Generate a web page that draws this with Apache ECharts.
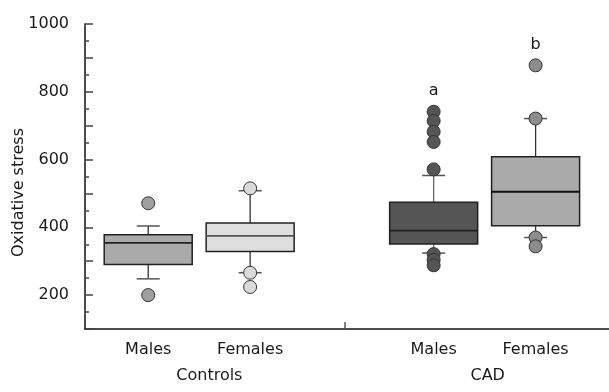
<!DOCTYPE html>
<html><head><meta charset="utf-8">
<script src="https://cdn.jsdelivr.net/npm/echarts@6/dist/echarts.min.js"></script>
<style>html,body{margin:0;padding:0;background:#fff}#c{width:609px;height:392px}</style>
</head><body><div id="c"></div>
<script>
const groups = ['Controls', 'CAD'];
const groupPositions = [1.6, 4.33];
const categories = ['Males', 'Females', 'Males', 'Females'];
const xPositions = [1, 2, 3.8, 4.8];
const separatorPositions = [2.93];
// [lower whisker, Q1, median, Q3, upper whisker]
const boxStats = [
  [248, 290, 354, 378, 404],
  [266, 329, 375, 413, 508],
  [324, 351, 390, 474, 553],
  [370, 405, 505, 608, 721]
];
const points = [
  [471, 200],
  [515, 266, 224],
  [741, 714, 682, 652, 571, 321, 304, 288],
  [878, 721, 370, 344]
];
const annotations = ['', '', 'a', 'b'];
const yTickLabels = [200, 400, 600, 800, 1000];

const boxFill = ['#aaaaaa', '#dedede', '#555555', '#aaaaaa'];
const pointFill = ['#a0a0a0', '#dadada', '#555555', '#8c8c8c'];
const medianColor = ['#222', '#555', '#222', '#111'];
const FONT = 'DejaVu Sans';

const boxData = boxStats.map((s, i) => [xPositions[i]].concat(s));
const pointData = [];
points.forEach((arr, i) => arr.forEach(v => pointData.push([xPositions[i], v, i])));
const annoData = points.map((arr, i) => [xPositions[i], Math.max.apply(null, arr)]);

const chart = echarts.init(document.getElementById('c'));
chart.setOption({
  animation: false,
  grid: {left: 85, right: 0, top: 24, bottom: 63, outerBoundsMode: 'none', containLabel: false},
  xAxis: [{
    type: 'value', min: 0.38, max: 5.52,
    splitLine: {show: false},
    axisLine: {show: true, lineStyle: {color: '#111', width: 1.5}},
    axisTick: {show: true, inside: true, length: 7, customValues: separatorPositions, lineStyle: {color: '#555', width: 1.5}},
    axisLabel: {
      customValues: xPositions, margin: 13, fontSize: 16, fontFamily: FONT, color: '#1a1a1a',
      formatter: v => { const k = xPositions.indexOf(v); return k >= 0 ? categories[k] : ''; }
    }
  }, {
    type: 'value', min: 0.38, max: 5.52, position: 'bottom', offset: 26,
    splitLine: {show: false}, axisLine: {show: false}, axisTick: {show: false},
    axisLabel: {
      customValues: groupPositions, margin: 13, fontSize: 16, fontFamily: FONT, color: '#1a1a1a',
      formatter: v => { const k = groupPositions.indexOf(v); return k >= 0 ? groups[k] : ''; }
    }
  }],
  yAxis: {
    type: 'value', min: 100, max: 1000, interval: 100,
    splitLine: {show: false},
    axisLine: {show: true, lineStyle: {color: '#111', width: 1.5}},
    axisTick: {show: true, inside: true, length: 8, lineStyle: {color: '#444', width: 1.5}},
    minorTick: {show: true, splitNumber: 2, length: 4, lineStyle: {color: '#444', width: 1.5}},
    axisLabel: {
      margin: 16, fontSize: 16, fontFamily: FONT, color: '#1a1a1a',
      formatter: v => yTickLabels.includes(v) ? String(v) : ''
    },
    name: 'Oxidative stress', nameLocation: 'middle', nameGap: 58, nameMoveOverlap: false,
    nameTextStyle: {fontSize: 16, fontFamily: FONT, color: '#1a1a1a', padding: [0, 32, 0, 0]}
  },
  series: [{
    type: 'custom',
    data: boxData,
    z: 2,
    renderItem: (params, api) => {
      const i = params.dataIndex;
      const x = api.value(0);
      const p = k => api.coord([x, api.value(k)]);
      const lo = p(1), q1 = p(2), md = p(3), q3 = p(4), hi = p(5);
      const cx = lo[0], bw = 88, cw = 23;
      return {type: 'group', children: [
        {type: 'line', shape: {x1: cx, y1: q3[1], x2: cx, y2: hi[1]}, style: {stroke: i === 2 ? '#666' : '#333', lineWidth: 1.3}},
        {type: 'line', shape: {x1: cx, y1: q1[1], x2: cx, y2: lo[1]}, style: {stroke: i === 2 ? '#666' : '#333', lineWidth: 1.3}},
        {type: 'line', shape: {x1: cx - cw / 2, y1: hi[1], x2: cx + cw / 2, y2: hi[1]}, style: {stroke: '#555', lineWidth: 1.5}},
        {type: 'line', shape: {x1: cx - cw / 2, y1: lo[1], x2: cx + cw / 2, y2: lo[1]}, style: {stroke: '#555', lineWidth: 1.5}},
        {type: 'rect', shape: {x: cx - bw / 2, y: q3[1], width: bw, height: q1[1] - q3[1]}, style: {fill: boxFill[i], stroke: '#222', lineWidth: 1.5}},
        {type: 'line', shape: {x1: cx - bw / 2, y1: md[1], x2: cx + bw / 2, y2: md[1]}, style: {stroke: medianColor[i], lineWidth: 1.8}}
      ]};
    }
  }, {
    type: 'scatter',
    data: pointData,
    z: 3,
    symbol: 'circle',
    symbolSize: 13,
    itemStyle: {color: pr => pointFill[pr.data[2]], borderColor: '#333', borderWidth: 1, opacity: 1}
  }, {
    type: 'custom',
    data: annoData,
    z: 4,
    renderItem: (params, api) => {
      const i = params.dataIndex;
      const c = api.coord([api.value(0), api.value(1)]);
      return {type: 'text', x: c[0], y: c[1] - 13, style: {text: annotations[i], fontSize: 16, fontFamily: FONT, fill: '#1a1a1a', align: 'center', verticalAlign: 'bottom'}};
    }
  }]
});
</script></body></html>
